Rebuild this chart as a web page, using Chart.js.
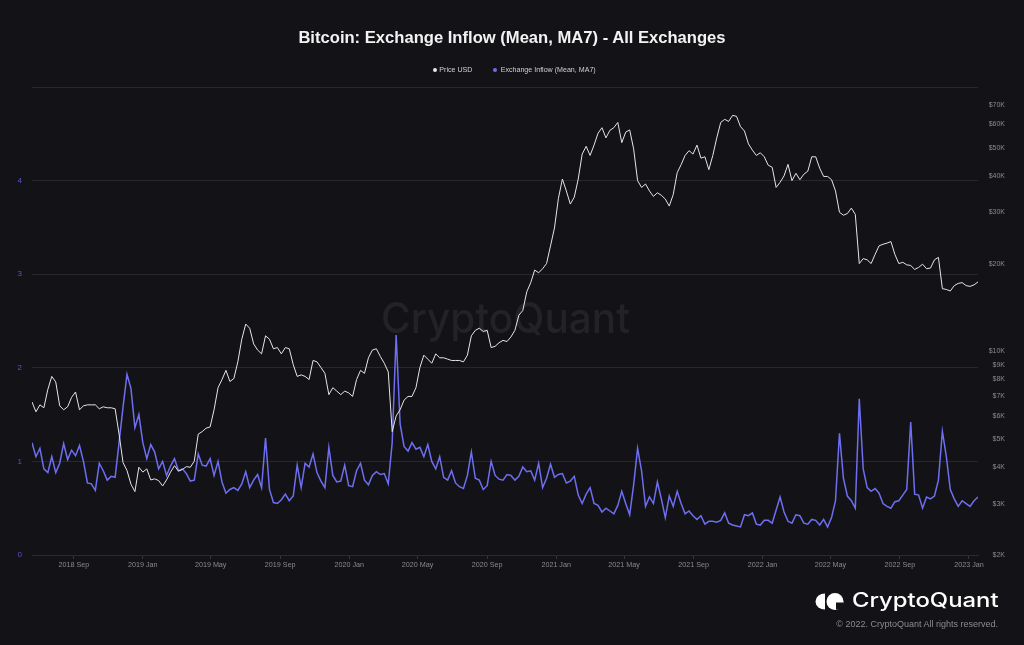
<!DOCTYPE html>
<html>
<head>
<meta charset="utf-8">
<script src="https://cdn.jsdelivr.net/npm/chart.js@4.4.0/dist/chart.umd.min.js"></script>
<style>
html,body{margin:0;padding:0;background:#131317;}
#wrap{position:relative;width:1024px;height:645px;overflow:hidden;background:#131317;font-family:"Liberation Sans",Arial,sans-serif;}
#myChart{position:absolute;left:0;top:0;}
#title{position:absolute;left:0;top:28px;width:1024px;text-align:center;color:#f2f2f2;font-weight:bold;font-size:16.6px;line-height:20px;}
.lg{position:absolute;top:65px;font-size:7.1px;line-height:10px;color:#d0d0d0;white-space:nowrap;}
.dot{position:absolute;top:68px;width:4px;height:4px;border-radius:2px;}
#logoText{position:absolute;left:851.5px;top:587px;font-family:Inter,sans-serif;font-weight:500;font-size:20px;line-height:26px;color:#fff;transform-origin:left center;white-space:nowrap;}
#logoIcon{position:absolute;left:812px;top:590px;}
#copy{position:absolute;right:26px;top:619px;font-size:9px;line-height:11px;color:#8c8c8c;white-space:nowrap;}
</style>
</head>
<body>
<div id="wrap">
	<canvas id="myChart" width="1024" height="645"></canvas>
	<div id="title">Bitcoin: Exchange Inflow (Mean, MA7) - All Exchanges</div>
	<div class="dot" style="left:433px;background:#e8e8e8"></div>
	<div class="lg" style="left:439.3px">Price USD</div>
	<div class="dot" style="left:493px;background:#6e6ef2"></div>
	<div class="lg" style="left:500.7px">Exchange Inflow (Mean, MA7)</div>
	<svg id="logoIcon" width="34" height="24" viewBox="0 0 34 24">
		<path d="M13,3.5 A9.5 8 0 0 0 13,19.5 Z" fill="#fff"/>
		<circle cx="23" cy="11.5" r="8.5" fill="#fff"/>
		<rect x="24" y="12.5" width="7" height="7" fill="#131317"/>
	</svg>
	<div id="logoText">CryptoQuant</div>
	<div id="copy">© 2022. CryptoQuant All rights reserved.</div>
</div>
<script>
// weekly samples, first one on startDate
var startDate = '2018-06-19'
var stepDays = 7

var inflow = [
	1.20,1.05,1.14,0.92,0.88,1.05,0.88,0.98,1.19,1.02,
	1.12,1.06,1.17,1.00,0.77,0.76,0.69,0.98,0.90,0.80,
	0.84,0.83,1.20,1.58,1.93,1.78,1.36,1.50,1.20,1.03,
	1.18,1.10,0.92,1.00,0.85,0.95,1.03,0.90,0.92,0.87,
	0.79,0.80,1.08,0.96,0.95,1.03,0.85,1.00,0.78,0.66,
	0.70,0.72,0.69,0.76,0.89,0.72,0.80,0.86,0.72,1.25,
	0.70,0.56,0.55,0.59,0.65,0.58,0.63,0.96,0.72,0.98,
	0.94,1.08,0.88,0.79,0.72,1.15,0.85,0.78,0.79,0.96,
	0.74,0.73,0.90,0.98,0.80,0.75,0.85,0.89,0.86,0.87,
	0.76,1.20,2.35,1.40,1.16,1.11,1.20,1.13,1.15,1.05,
	1.18,1.00,0.92,1.05,0.83,0.80,0.90,0.77,0.73,0.71,
	0.85,1.10,0.82,0.80,0.70,0.74,1.00,0.85,0.81,0.80,
	0.86,0.85,0.80,0.84,0.94,0.89,0.90,0.80,0.98,0.72,
	0.82,0.97,0.83,0.86,0.87,0.77,0.79,0.84,0.64,0.55,
	0.65,0.72,0.55,0.53,0.46,0.50,0.47,0.44,0.53,0.68,
	0.55,0.43,0.75,1.14,0.90,0.52,0.62,0.55,0.78,0.60,
	0.40,0.63,0.52,0.68,0.55,0.44,0.47,0.42,0.38,0.42,
	0.33,0.36,0.36,0.35,0.37,0.45,0.34,0.32,0.31,0.30,
	0.43,0.42,0.45,0.33,0.32,0.37,0.37,0.34,0.48,0.62,
	0.46,0.36,0.34,0.43,0.42,0.34,0.33,0.38,0.37,0.32,
	0.38,0.30,0.40,0.58,1.30,0.82,0.63,0.58,0.50,1.67,
	0.92,0.72,0.68,0.71,0.66,0.55,0.52,0.50,0.57,0.58,
	0.64,0.70,1.42,0.65,0.64,0.50,0.62,0.60,0.63,0.80,
	1.32,1.05,0.70,0.60,0.52,0.58,0.55,0.52,0.58,0.62
]

var price = [
	6700,6200,6550,6400,7400,8200,7850,6500,6300,6450,
	6950,7250,6300,6500,6550,6550,6550,6350,6450,6400,
	6400,6350,5200,4150,3900,3500,3300,4000,3850,3950,
	3620,3650,3600,3450,3620,3850,4050,3880,3930,4020,
	4000,4200,5200,5300,5450,5500,6300,7500,8000,8600,
	7880,8060,9200,11000,12400,12000,10600,10100,9800,11300,
	11000,10200,10300,9800,10300,10200,9000,8200,8300,8200,
	8000,9300,9200,8800,8400,7100,7500,7300,7100,7300,
	7200,7000,8000,8600,8400,9500,10100,10200,9600,9100,
	8500,5300,6000,6300,6800,7000,7000,7500,8800,9700,
	9400,9100,9800,9500,9500,9400,9300,9300,9300,9200,
	9700,11300,11800,12000,11700,11800,10300,10400,10700,10900,
	10800,11200,11800,13300,13800,16000,17200,19000,18600,19200,
	20000,23000,26500,33500,39000,35500,32000,33800,39000,47500,
	50500,47000,51000,56000,58500,54000,57300,58500,61000,52000,
	56500,57500,49500,38500,36500,37500,35500,34000,35000,34300,
	33300,31500,34500,41000,43700,47000,48800,47500,51000,46000,
	46500,42000,47000,54000,61000,62500,61500,64500,64000,59000,
	57000,51500,49000,47000,48000,46500,43500,42800,36500,38000,
	40000,43800,38500,40800,38800,40500,41500,46500,46500,42500,
	39800,39800,38800,35500,30000,29300,29700,31000,29500,20000,
	20800,20600,20000,21500,23000,23300,23500,23800,21500,20000,
	20200,19800,19700,19100,19400,19900,19200,19300,20600,21000,
	16400,16300,16100,16800,17100,17200,16800,16700,16900,17300
]

var xTickLabels = ['2018 Sep','2019 Jan','2019 May','2019 Sep','2020 Jan','2020 May','2020 Sep','2021 Jan','2021 May','2021 Sep','2022 Jan','2022 May','2022 Sep','2023 Jan']
var inflowTicks = [0,1,2,3,4,5]
var priceTicks = [2000,3000,4000,5000,6000,7000,8000,9000,10000,20000,30000,40000,50000,60000,70000]

var months = ['Jan','Feb','Mar','Apr','May','Jun','Jul','Aug','Sep','Oct','Nov','Dec']
var DAY = 86400000

function dayOf(str){
	var p = str.split('-')
	return Date.UTC(+p[0], +p[1]-1, +p[2]) / DAY
}
function dayOfLabel(lbl){
	var p = lbl.split(' ')
	return Date.UTC(+p[0], months.indexOf(p[1]), 1) / DAY
}

var firstDay = dayOf(startDate)
var pricePoints = []
var inflowPoints = []
for(var i=0;i<price.length;i++){
	pricePoints.push({x:firstDay+i*stepDays, y:price[i]})
	inflowPoints.push({x:firstDay+i*stepDays, y:inflow[i]})
}
var lastDay = firstDay + (price.length-1)*stepDays
var xTickValues = xTickLabels.map(dayOfLabel)

var watermark = {
	id:'watermark',
	beforeDatasetsDraw: function(chart){
		var c = chart.ctx
		c.save()
		c.font = '500 42px Inter'
		var w = c.measureText('CryptoQuant').width
		c.translate(381, 333)
		c.scale(249/w, 1)
		c.fillStyle = '#222227'
		c.textBaseline = 'alphabetic'
		c.fillText('CryptoQuant', 0, 0)
		c.restore()
	}
}

var mychart = document.getElementById('myChart').getContext('2d')

var chart = new Chart(mychart,{
	type:'line',
	data:{
		datasets:[
			{
				label:'Price USD',
				data:pricePoints,
				yAxisID:'y1',
				borderColor:'#e6e6e6',
				borderWidth:1,
				pointRadius:0,
				tension:0
			},
			{
				label:'Exchange Inflow (Mean, MA7)',
				data:inflowPoints,
				yAxisID:'y',
				borderColor:'#6e6ef2',
				borderWidth:1.5,
				pointRadius:0,
				tension:0
			}
		]
	},
	options:{
		responsive:false,
		animation:false,
		layout:{padding:{top:87,right:19,left:0,bottom:0}},
		plugins:{
			legend:{display:false},
			title:{display:false},
			tooltip:{enabled:false}
		},
		scales:{
			x:{
				type:'linear',
				min:firstDay,
				max:lastDay,
				afterBuildTicks:function(s){ s.ticks = xTickValues.map(function(v){return {value:v}}) },
				afterFit:function(s){ s.height = 90 },
				ticks:{
					autoSkip:false,
					maxRotation:0,
					padding:2,
					color:'#8a8a8a',
					font:{size:7.2,family:'Liberation Sans'},
					callback:function(v,idx){ return xTickLabels[idx] }
				},
				grid:{drawOnChartArea:false,color:'#34343a',tickLength:4},
				border:{color:'#2a2a30'}
			},
			y:{
				position:'left',
				min:0,
				max:5,
				afterBuildTicks:function(s){ s.ticks = inflowTicks.map(function(v){return {value:v}}) },
				afterFit:function(s){ s.width = 32 },
				ticks:{
					padding:10,
					color:'#5656cc',
					font:{size:8,family:'Liberation Sans'},
					callback:function(v){ return v===5 ? '' : v }
				},
				grid:{color:'#27272c',drawTicks:false},
				border:{display:false}
			},
			y1:{
				type:'logarithmic',
				position:'right',
				min:2000,
				max:80700,
				afterBuildTicks:function(s){ s.ticks = priceTicks.map(function(v){return {value:v}}) },
				afterFit:function(s){ s.width = 27 },
				ticks:{
					crossAlign:'far',
					padding:11,
					color:'#8a8a8a',
					font:{size:7,family:'Liberation Sans'},
					callback:function(v){ return '$'+(v/1000)+'K' }
				},
				grid:{display:false,drawTicks:false},
				border:{display:false}
			}
		}
	},
	plugins:[watermark]
})

var logo = document.getElementById('logoText')
logo.style.transform = 'scaleX(' + (146.7/logo.offsetWidth) + ')'
</script>
</body>
</html>
